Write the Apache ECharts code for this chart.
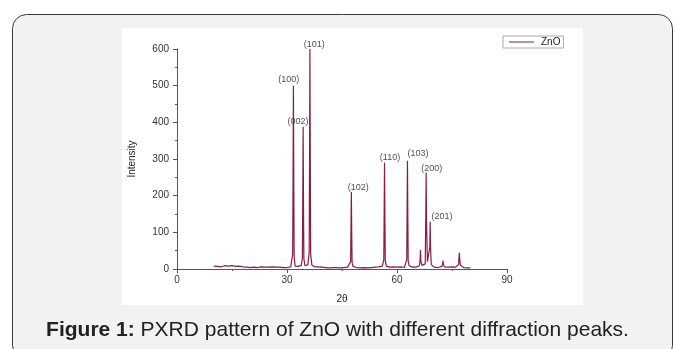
<!DOCTYPE html>
<html>
<head>
<meta charset="utf-8">
<script src="https://cdn.jsdelivr.net/npm/echarts@6/dist/echarts.min.js"></script>
<style>
  html, body { margin: 0; padding: 0; background: #fff; }
  #main { width: 675px; height: 349px; }
</style>
</head>
<body>
<div id="main"></div>
<script>
// 2theta / intensity
const twoTheta = [
  10.0, 10.5, 11.0, 11.5, 12.0, 12.5, 13.0, 13.5, 14.0, 14.5, 15.0, 15.5, 16.0, 16.5, 17.0, 17.5,
  18.0, 18.5, 19.0, 19.5, 20.0, 20.5, 21.0, 21.5, 22.0, 22.5, 23.0, 23.5, 24.0, 24.5, 25.0, 25.5,
  26.0, 26.5, 27.0, 27.5, 28.0, 28.5, 29.0, 29.5, 30.0, 30.5, 31.0, 31.4,
  31.55, 31.65, 31.75, 31.85, 31.95,
  32.2, 32.6, 33.0, 33.5, 33.9,
  34.2, 34.3, 34.4, 34.5, 34.6,
  34.9, 35.3, 35.7,
  36.05, 36.15, 36.25, 36.35, 36.45,
  36.8, 37.2, 37.5, 38.0, 38.5, 39.0, 39.5, 40.0, 40.5, 41.0, 41.5, 42.0, 42.5, 43.0, 43.5, 44.0,
  44.5, 45.0, 45.5, 46.0, 46.5, 47.0,
  47.35, 47.45, 47.55, 47.65, 47.75,
  48.0, 48.5, 49.0, 49.5, 50.0, 50.5, 51.0, 51.5, 52.0, 52.5, 53.0, 53.5, 54.0, 54.5, 55.0, 55.5, 56.0,
  56.4, 56.5, 56.6, 56.7, 56.8,
  57.1, 57.5, 58.0, 58.5, 59.0, 59.5, 60.0, 60.5, 61.0, 61.5, 62.0, 62.4,
  62.65, 62.75, 62.85, 62.95, 63.05,
  63.3, 63.7, 64.2, 64.7, 65.2, 65.7, 66.1,
  66.3, 66.4, 66.5,
  66.8, 67.3, 67.7,
  67.85, 67.95, 68.05,
  68.3,
  68.95, 69.05, 69.15, 69.35,
  69.7, 70.2, 70.7, 71.2, 71.7, 72.2,
  72.45, 72.55, 72.65,
  72.9, 73.4, 73.9, 74.4, 74.9, 75.4, 75.9, 76.4, 76.8,
  76.9, 77.0, 77.1, 77.3,
  77.7, 78.2, 78.7, 79.2, 79.7, 80.0
];
const intensity = [
  8, 10, 7, 9, 6, 8, 9, 6, 8, 7, 9, 5, 7, 6, 8, 5,
  6, 7, 5, 6, 4, 6, 5, 7, 4, 5, 6, 4, 5, 3, 5, 4,
  6, 3, 5, 4, 5, 3, 4, 6, 4, 5, 6, 9,
  40, 250, 500, 240, 35,
  8, 6, 7, 6, 10,
  30, 190, 388, 180, 28,
  9, 7, 12,
  45, 300, 600, 290, 40,
  10, 7, 6, 5, 6, 4, 5, 6, 4, 5, 3, 5, 4, 6, 4, 5,
  3, 5, 4, 6, 5, 7,
  20, 110, 210, 100, 18,
  7, 5, 4, 6, 3, 5, 4, 6, 3, 5, 4, 6, 5, 4, 6, 5, 8,
  25, 150, 290, 140, 22,
  8, 6, 5, 4, 6, 3, 5, 4, 6, 5, 4, 8,
  25, 150, 295, 145, 22,
  9, 6, 5, 7, 5, 6, 9,
  25, 52, 22,
  10, 8, 14,
  140, 263, 130,
  20,
  60, 129, 58, 12,
  7, 5, 6, 4, 5, 7,
  14, 23, 12,
  6, 4, 5, 4, 6, 3, 5, 6, 12,
  30, 44, 28, 10,
  6, 4, 5, 3, 4, 3
];

// Miller index labels and where they sit (data coords)
const peakLabels = ['(100)', '(002)', '(101)', '(102)', '(110)', '(103)', '(200)', '(201)'];
const labelX = [30.5, 33.0, 37.4, 49.4, 58.1, 65.7, 69.5, 72.3];
const labelY = [518, 402, 611, 221, 305, 316, 273, 142];

const xTicks = [0, 30, 60, 90];
const yTicks = [0, 100, 200, 300, 400, 500, 600];

const chart = echarts.init(document.getElementById('main'));

const lineData = twoTheta.map((t, i) => [t, intensity[i]]);
const labelData = peakLabels.map((s, i) => ({ value: [labelX[i], labelY[i]], name: s }));

chart.setOption({
  animation: false,
  textStyle: { fontFamily: 'Liberation Sans, Arial, sans-serif' },
  graphic: [
    {
      type: 'rect', z: -10,
      shape: { x: 12.5, y: 14.5, width: 660, height: 345, r: 14 },
      style: { fill: '#f1f2f4', stroke: '#3a3a3a', lineWidth: 1 }
    },
    {
      type: 'rect', z: -9,
      shape: { x: 122, y: 28, width: 461, height: 277 },
      style: { fill: '#ffffff' }
    },
    {
      type: 'text', left: 'center', top: 320,
      style: {
        text: '{b|Figure 1:} PXRD pattern of ZnO with different diffraction peaks.',
        font: '21px Liberation Sans',
        fill: '#222',
        rich: { b: { fontWeight: 'bold', fontSize: 21, fontFamily: 'Liberation Sans', fill: '#222' } }
      }
    }
  ],
  legend: {
    data: [{ name: 'ZnO', icon: 'rect' }],
    left: 503, top: 36,
    itemWidth: 25, itemHeight: 1,
    itemGap: 4,
    padding: [1, 3, 1, 6],
    borderColor: '#aaa', borderWidth: 1,
    backgroundColor: '#fff',
    textStyle: { fontSize: 10, color: '#222', padding: [0, 0, 0, 2] }
  },
  grid: { left: 177, top: 49, width: 330, height: 220 },
  xAxis: {
    type: 'value', min: 0, max: 90, interval: 30,
    name: '2θ', nameLocation: 'middle', nameGap: 25,
    nameTextStyle: { fontSize: 10, color: '#222' },
    axisLine: { lineStyle: { color: '#555', width: 1 } },
    axisTick: { length: 4, lineStyle: { color: '#555' } },
    minorTick: { show: true, splitNumber: 2, length: 2, lineStyle: { color: '#555' } },
    axisLabel: { fontSize: 10, color: '#333', margin: 6, customValues: xTicks },
    splitLine: { show: false }
  },
  yAxis: {
    type: 'value', min: 0, max: 600, interval: 100,
    name: 'Intensity', nameLocation: 'middle', nameGap: 40,
    nameTextStyle: { fontSize: 10, color: '#222' },
    axisLine: { show: true, lineStyle: { color: '#555', width: 1 } },
    axisTick: { show: true, length: 4, lineStyle: { color: '#555' } },
    minorTick: { show: true, splitNumber: 2, length: 2, lineStyle: { color: '#555' } },
    axisLabel: { fontSize: 10, color: '#333', margin: 8, customValues: yTicks },
    splitLine: { show: false }
  },
  series: [
    {
      name: 'ZnO', type: 'line',
      data: lineData,
      showSymbol: false, symbol: 'none',
      lineStyle: { color: '#8a1c40', width: 1.2 },
      itemStyle: { color: '#8a1c40' },
      z: 3
    },
    {
      name: 'labels', type: 'scatter',
      data: labelData,
      symbolSize: 0,
      clip: false,
      label: {
        show: true, position: 'inside',
        formatter: p => p.name,
        fontSize: 9, color: '#222'
      },
      z: 4
    }
  ]
});
</script>
</body>
</html>
